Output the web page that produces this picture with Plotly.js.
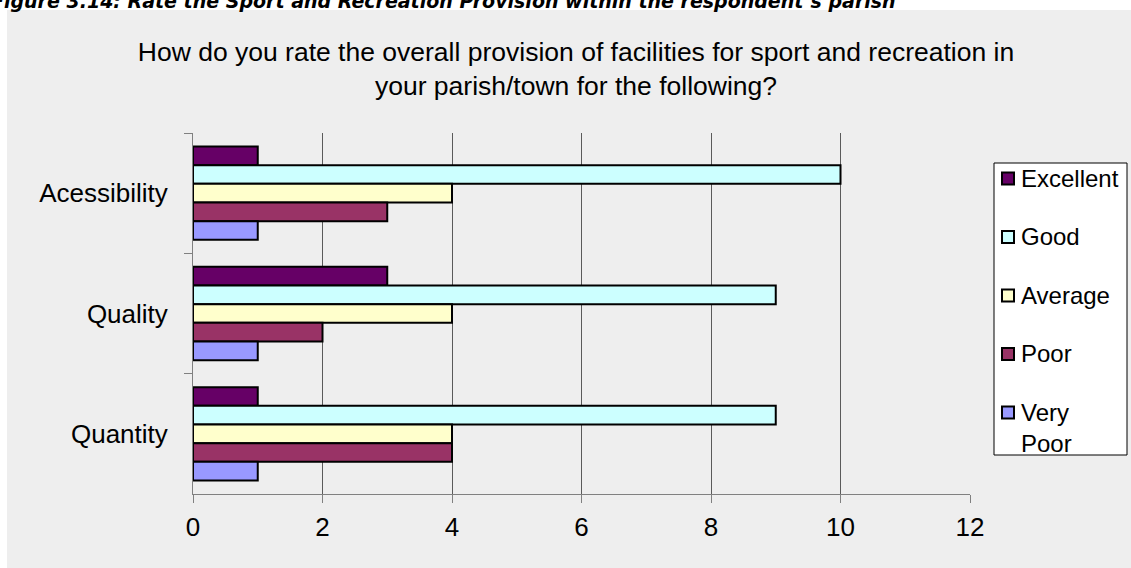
<!DOCTYPE html>
<html>
<head>
<meta charset="utf-8">
<script src="https://cdn.plot.ly/plotly-3.0.1.min.js"></script>
<style>
  html, body { margin: 0; padding: 0; background: #ffffff; }
  #chart { width: 1131px; height: 568px; }
</style>
</head>
<body>
<div id="chart"></div>
<script>
// Aspects rated, listed top to bottom as drawn
const categories = ['Acessibility', 'Quality', 'Quantity'];

// Number of responses per rating
const excellent = [1, 3, 1];
const good      = [10, 9, 9];
const average   = [4, 4, 4];
const poor      = [3, 2, 4];
const veryPoor  = [1, 1, 1];

const seriesNames  = ['Excellent', 'Good', 'Average', 'Poor', 'Very Poor'];
const seriesValues = [excellent, good, average, poor, veryPoor];
const seriesColors = ['#660066', '#CCFFFF', '#FFFFCC', '#993366', '#9999FF'];

const xTickValues = [0, 2, 4, 6, 8, 10, 12];

const chartTitle = 'How do you rate the overall provision of facilities for sport and recreation in<br>your parish/town for the following?';
const caption = 'Figure 3.14: Rate the Sport and Recreation Provision within the respondent\u2019s parish';

// Plot-area geometry (pixels) used for placing page furniture
const W = 1131, H = 568;
const M = { l: 193, r: 161, t: 133, b: 74 };
const plotW = W - M.l - M.r, plotH = H - M.t - M.b;
const px2x = px => (px - M.l) / plotW;
const py2y = py => (H - M.b - py) / plotH;

const FONT = '"Liberation Sans", Arial, sans-serif';

const traces = seriesNames.map((name, i) => ({
  type: 'bar',
  orientation: 'h',
  name: name,
  y: categories,
  x: seriesValues[i],
  marker: { color: seriesColors[i], line: { color: '#000000', width: 2 } },
  hoverinfo: 'x+name'
}));

const shapes = [
  // grey chart background below the caption strip
  { type: 'rect', xref: 'paper', yref: 'paper', layer: 'below',
    x0: px2x(7), x1: px2x(W + 20), y0: py2y(H + 20), y1: py2y(10),
    line: { width: 0 }, fillcolor: '#EEEEEE' },
  // legend box
  { type: 'rect', xref: 'paper', yref: 'paper', layer: 'above',
    x0: px2x(994), x1: px2x(1127), y0: py2y(455), y1: py2y(163),
    line: { color: '#000000', width: 1 }, fillcolor: '#FFFFFF' }
];

const annotations = [
  { xref: 'paper', yref: 'paper', x: px2x(898), y: py2y(0.5),
    xanchor: 'right', yanchor: 'middle', showarrow: false, text: '<b><i>' + caption + '</i></b>',
    font: { family: '"DejaVu Sans", Verdana, sans-serif', size: 19, color: '#000000' } }
];

// Legend entries: swatch plus label, one row per rating
const legendTop = 178.5, legendStep = 58.5, swatch = 12;
seriesNames.forEach((name, i) => {
  const cy = legendTop + i * legendStep;
  shapes.push({
    type: 'rect', xref: 'paper', yref: 'paper', layer: 'above',
    x0: px2x(1002), x1: px2x(1002 + swatch), y0: py2y(cy + swatch / 2), y1: py2y(cy - swatch / 2),
    line: { color: '#000000', width: 2 }, fillcolor: seriesColors[i]
  });
  annotations.push({
    xref: 'paper', yref: 'paper', x: px2x(1019), y: py2y(cy - 16),
    xanchor: 'left', yanchor: 'top', align: 'left', showarrow: false,
    text: name.replace(' ', '<br>'),
    font: { family: FONT, size: 24, color: '#000000' }
  });
});

const layout = {
  width: W, height: H,
  margin: M,
  paper_bgcolor: '#FFFFFF',
  plot_bgcolor: 'rgba(0,0,0,0)',
  showlegend: false,
  barmode: 'group',
  bargap: 0.225,
  bargroupgap: 0,
  font: { family: FONT, size: 26, color: '#000000' },
  title: {
    text: chartTitle,
    font: { family: FONT, size: 26.5, color: '#000000' },
    xref: 'paper', x: px2x(576), xanchor: 'center',
    yref: 'container', y: 1 - 61 / H, yanchor: 'top'
  },
  xaxis: {
    range: [0, 12],
    tickvals: xTickValues,
    ticktext: xTickValues.map(String),
    showgrid: true, gridcolor: '#5A5A5A', gridwidth: 1,
    showline: true, linecolor: '#808080', linewidth: 1,
    zeroline: false,
    ticks: 'outside', ticklen: 8, tickcolor: '#808080', tickwidth: 1,
    ticklabelstandoff: 2,
    tickfont: { family: FONT, size: 26, color: '#000000' },
    fixedrange: true
  },
  yaxis: {
    type: 'category',
    categoryorder: 'array', categoryarray: categories,
    autorange: 'reversed',
    showgrid: false,
    showline: true, linecolor: '#808080', linewidth: 1,
    zeroline: false,
    ticks: 'outside', ticklen: 8, tickcolor: '#808080', tickwidth: 1,
    tickson: 'boundaries',
    ticklabelstandoff: 19,
    tickfont: { family: FONT, size: 26, color: '#000000' },
    fixedrange: true
  },
  shapes: shapes,
  annotations: annotations
};

Plotly.newPlot('chart', traces, layout, { displayModeBar: false, staticPlot: true });
</script>
</body>
</html>
